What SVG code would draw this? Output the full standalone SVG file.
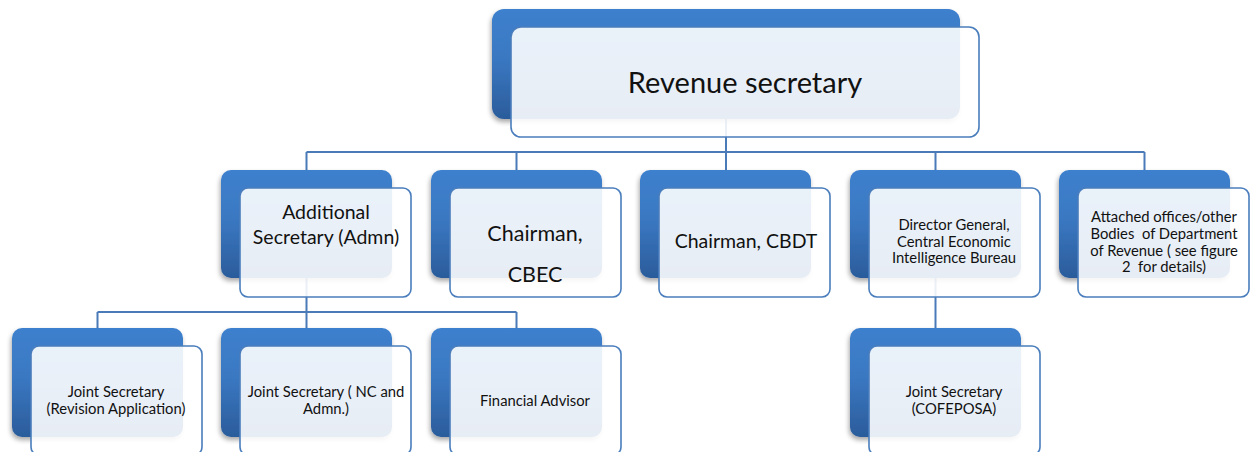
<svg xmlns="http://www.w3.org/2000/svg" width="1251" height="452" viewBox="0 0 1251 452">
  <defs>
    <linearGradient id="backFill" x1="0" y1="0" x2="0" y2="1">
      <stop offset="0" stop-color="#3e80cd"/>
      <stop offset="0.45" stop-color="#3a78c2"/>
      <stop offset="1" stop-color="#2b5c9b"/>
    </linearGradient>
    <filter id="shadow" x="-10%" y="-10%" width="125%" height="130%">
      <feGaussianBlur in="SourceAlpha" stdDeviation="2.5"/>
      <feOffset dx="-1" dy="3" result="b"/>
      <feComponentTransfer><feFuncA type="linear" slope="0.35"/></feComponentTransfer>
      <feMerge><feMergeNode/><feMergeNode in="SourceGraphic"/></feMerge>
    </filter>
  </defs>
  <style>
    .back { fill: url(#backFill); filter: url(#shadow); }
    .front { fill: #ffffff; fill-opacity: 0.89; stroke: #4a7dbc; stroke-width: 1.6; }
    .link { fill: none; stroke: #4a7ab8; stroke-width: 2; }
    text { font-family: Lato, "Open Sans", sans-serif; fill: #111; text-anchor: middle; white-space: pre; }
    .t1 { font-size: 29px; }
    .t2 { font-size: 19.5px; }
    .t2b { font-size: 21.5px; }
    .t3 { font-size: 14.8px; }
    .t4 { font-size: 14.8px; }
  </style>

  <!-- connectors -->
  <g id="connectors">
    <path class="link" d="M726 119 V152 M306.5 152 H1144.5 M306.5 152 V170 M516.5 152 V170 M726 152 V170 M935.5 152 V170 M1144.5 152 V170"/>
    <path class="link" d="M306.5 278 V312 M97.5 312 H516.5 M97.5 312 V328 M306.5 312 V328 M516.5 312 V328"/>
    <path class="link" d="M935.5 278 V328"/>
  </g>

  <!-- top level -->
  <g id="revenue-secretary">
    <rect class="back" x="492" y="9" width="468" height="110" rx="12"/>
    <rect class="front" x="511" y="27" width="468" height="110" rx="10"/>
    <text class="t1" x="745" y="93">Revenue secretary</text>
  </g>

  <!-- second level -->
  <g id="additional-secretary">
    <rect class="back" x="221" y="170" width="171" height="108" rx="10"/>
    <rect class="front" x="240" y="188" width="171" height="109" rx="8"/>
    <text class="t2" x="326" y="219">Additional</text>
    <text class="t2" x="326" y="244">Secretary (Admn)</text>
  </g>
  <g id="chairman-cbec">
    <rect class="back" x="431" y="170" width="171" height="108" rx="10"/>
    <rect class="front" x="450" y="188" width="171" height="109" rx="8"/>
    <text class="t2b" x="535" y="241">Chairman,</text>
    <text class="t2b" x="535" y="282">CBEC</text>
  </g>
  <g id="chairman-cbdt">
    <rect class="back" x="640" y="170" width="171" height="108" rx="10"/>
    <rect class="front" x="659" y="188" width="171" height="109" rx="8"/>
    <text class="t2" x="746" y="248">Chairman, CBDT</text>
  </g>
  <g id="director-general">
    <rect class="back" x="850" y="170" width="171" height="108" rx="10"/>
    <rect class="front" x="869" y="188" width="171" height="109" rx="8"/>
    <text class="t3" x="954" y="230">Director General,</text>
    <text class="t3" x="954" y="246.5">Central Economic</text>
    <text class="t3" x="954" y="263">Intelligence Bureau</text>
  </g>
  <g id="attached-offices">
    <rect class="back" x="1059" y="170" width="171" height="108" rx="10"/>
    <rect class="front" x="1078" y="188" width="171" height="109" rx="8"/>
    <text class="t3" x="1164" y="222">Attached offices/other</text>
    <text class="t3" x="1164" y="239">Bodies  of Department</text>
    <text class="t3" x="1164" y="255.5">of Revenue ( see figure</text>
    <text class="t3" x="1164" y="272">2  for details)</text>
  </g>

  <!-- third level -->
  <g id="js-revision">
    <rect class="back" x="12" y="328" width="171" height="109" rx="10"/>
    <rect class="front" x="31" y="346" width="171" height="109" rx="8"/>
    <text class="t4" x="116" y="397">Joint Secretary</text>
    <text class="t4" x="116" y="414">(Revision Application)</text>
  </g>
  <g id="js-nc-admn">
    <rect class="back" x="221" y="328" width="171" height="109" rx="10"/>
    <rect class="front" x="240" y="346" width="171" height="109" rx="8"/>
    <text class="t4" x="326" y="397">Joint Secretary ( NC and</text>
    <text class="t4" x="326" y="414">Admn.)</text>
  </g>
  <g id="financial-advisor">
    <rect class="back" x="431" y="328" width="171" height="109" rx="10"/>
    <rect class="front" x="450" y="346" width="171" height="109" rx="8"/>
    <text class="t4" x="535" y="406">Financial Advisor</text>
  </g>
  <g id="js-cofeposa">
    <rect class="back" x="850" y="328" width="171" height="109" rx="10"/>
    <rect class="front" x="869" y="346" width="171" height="109" rx="8"/>
    <text class="t4" x="954" y="397">Joint Secretary</text>
    <text class="t4" x="954" y="414">(COFEPOSA)</text>
  </g>
</svg>
